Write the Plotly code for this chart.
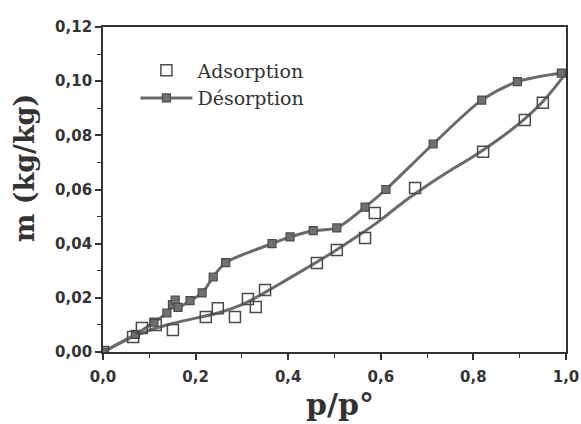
import plotly.graph_objects as go

# Adsorption measured points (open squares)
ads_x = [0, 0.065, 0.084, 0.114, 0.151, 0.222, 0.248, 0.285, 0.313, 0.330, 0.350,
         0.462, 0.505, 0.566, 0.587, 0.674, 0.821, 0.911, 0.950]
ads_y = [0, 0.0055, 0.0089, 0.0100, 0.0081, 0.0129, 0.0162, 0.0129, 0.0196, 0.0166, 0.0229,
         0.0329, 0.0377, 0.0421, 0.0513, 0.0606, 0.0739, 0.0857, 0.0920]

# Adsorption fitted curve (grey line)
ads_fit_x = [0, 0.05, 0.1, 0.15, 0.2, 0.25, 0.3, 0.35, 0.4, 0.45, 0.5, 0.55, 0.6,
             0.65, 0.7, 0.75, 0.8, 0.85, 0.9, 0.95, 1.0]
ads_fit_y = [0, 0.0045, 0.0080, 0.0105, 0.0125, 0.0145, 0.0175, 0.0220, 0.0270, 0.0320,
             0.0372, 0.0428, 0.0488, 0.0555, 0.0615, 0.0670, 0.0722, 0.0780, 0.0845,
             0.0925, 0.1030]

# Desorption points (filled squares, joined by line)
des_x = [0, 0.07, 0.11, 0.138, 0.15, 0.156, 0.162, 0.188, 0.214, 0.238, 0.265, 0.365,
         0.404, 0.454, 0.505, 0.566, 0.611, 0.713, 0.818, 0.895, 0.99]
des_y = [0, 0.0065, 0.0110, 0.0144, 0.0175, 0.0192, 0.0165, 0.0190, 0.0218, 0.0277,
         0.0330, 0.0400, 0.0425, 0.0448, 0.0458, 0.0535, 0.0600, 0.0768, 0.0930,
         0.0998, 0.1030]

x_ticks = [0, 0.2, 0.4, 0.6, 0.8, 1.0]
y_ticks = [0, 0.02, 0.04, 0.06, 0.08, 0.10, 0.12]

LINE = "#6a6a6a"
EDGE = "#4a4a4a"
TXT = "#333333"

fig = go.Figure()
fig.add_trace(go.Scatter(x=ads_fit_x, y=ads_fit_y, mode="lines", showlegend=False,
                         line=dict(color=LINE, width=3, shape="spline", smoothing=1.0),
                         hoverinfo="skip"))
fig.add_trace(go.Scatter(x=des_x, y=des_y, mode="lines+markers", name="Désorption",
                         line=dict(color=LINE, width=3, shape="spline", smoothing=0.8),
                         marker=dict(symbol="square", size=8, color="#707070",
                                     line=dict(color=EDGE, width=1.2))))
fig.add_trace(go.Scatter(x=ads_x, y=ads_y, mode="markers", name="Adsorption",
                         marker=dict(symbol="square-open", size=11, color=EDGE,
                                     line=dict(width=1.5))))

tickfont = dict(family="DejaVu Sans", size=15, color=TXT, weight="bold")
axis_common = dict(showline=True, linecolor=TXT, linewidth=1.8, mirror=True,
                   ticks="outside", ticklen=6, tickwidth=1.5, tickcolor=TXT,
                   showgrid=False, zeroline=False, tickfont=tickfont, automargin=False,
                   minor=dict(ticks="outside", ticklen=4, tickwidth=1.3, tickcolor=TXT))

fig.update_xaxes(range=[0, 1.0], tickvals=x_ticks, tickformat=".1f",
                 ticklabelstandoff=4, minor_dtick=0.1, **axis_common)
fig.update_yaxes(range=[0, 0.12], tickvals=y_ticks, tickformat=".2f",
                 minor_dtick=0.01, **axis_common)

fig.add_annotation(text="m (kg/kg)", textangle=-90, xref="paper", yref="paper",
                   x=-0.17, y=(352 - 168) / 325, xanchor="center", yanchor="middle",
                   showarrow=False,
                   font=dict(family="DejaVu Serif", size=27, color=TXT, weight="bold"))
fig.add_annotation(text="p/p°", xref="paper", yref="paper",
                   x=(340 - 103) / 463, y=-(404 - 352) / 325, xanchor="center",
                   yanchor="middle", showarrow=False,
                   font=dict(family="DejaVu Serif", size=30, color=TXT, weight="bold"))

fig.update_layout(
    width=581, height=424,
    margin=dict(l=103, r=15, t=27, b=72),
    paper_bgcolor="white", plot_bgcolor="white",
    separators=", ",
    legend=dict(x=0.07, y=0.925, xanchor="left", yanchor="top",
                traceorder="reversed", itemwidth=52, tracegroupgap=0,
                font=dict(family="DejaVu Serif", size=19, color=TXT),
                bgcolor="rgba(0,0,0,0)"),
)

fig.write_html("out.html")
